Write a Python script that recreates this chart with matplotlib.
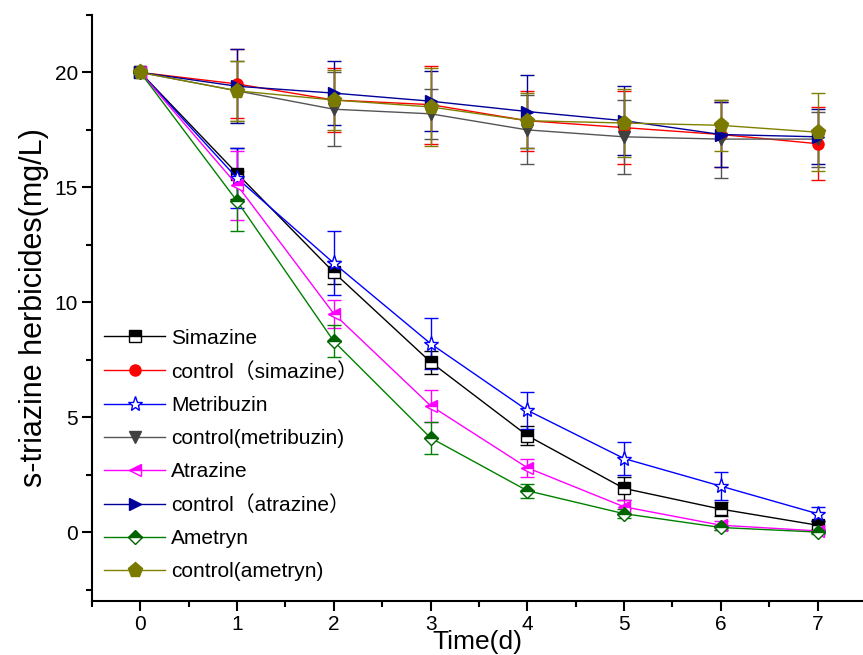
import matplotlib
matplotlib.use('Agg')
import matplotlib.pyplot as plt
from matplotlib.lines import Line2D
import numpy as np

plt.rcParams['font.family'] = ['Liberation Sans', 'Noto Sans CJK SC', 'DejaVu Sans']

days = [0, 1, 2, 3, 4, 5, 6, 7]

simazine = [20, 15.6, 11.3, 7.4, 4.2, 1.9, 1.0, 0.3]
simazine_err = [0, 1.1, 0.5, 0.5, 0.4, 0.5, 0.3, 0.2]
ctrl_simazine = [20, 19.5, 18.8, 18.6, 17.9, 17.6, 17.3, 16.9]
ctrl_simazine_err = [0, 1.5, 1.4, 1.7, 1.3, 1.6, 1.4, 1.6]
metribuzin = [20, 15.4, 11.7, 8.2, 5.3, 3.2, 2.0, 0.8]
metribuzin_err = [0, 1.3, 1.4, 1.1, 0.8, 0.7, 0.6, 0.3]
ctrl_metribuzin = [20, 19.2, 18.4, 18.2, 17.5, 17.2, 17.1, 17.1]
ctrl_metribuzin_err = [0, 1.3, 1.6, 1.1, 1.5, 1.6, 1.7, 1.2]
atrazine = [20, 15.1, 9.5, 5.5, 2.8, 1.1, 0.3, 0.05]
atrazine_err = [0, 1.5, 0.6, 0.7, 0.4, 0.3, 0.2, 0.1]
ctrl_atrazine = [20, 19.4, 19.1, 18.75, 18.3, 17.9, 17.3, 17.2]
ctrl_atrazine_err = [0, 1.6, 1.4, 1.3, 1.6, 1.5, 1.4, 1.2]
ametryn = [20, 14.4, 8.3, 4.1, 1.8, 0.8, 0.2, 0.0]
ametryn_err = [0, 1.3, 0.7, 0.7, 0.3, 0.2, 0.1, 0.1]
ctrl_ametryn = [20, 19.2, 18.8, 18.5, 17.9, 17.8, 17.7, 17.4]
ctrl_ametryn_err = [0, 1.3, 1.3, 1.7, 1.2, 1.5, 1.1, 1.7]

series = [
    ('Simazine', simazine, simazine_err, 'black', 's', 'top', 'black'),
    ('control\uff08simazine\uff09', ctrl_simazine, ctrl_simazine_err, 'red', 'o', 'full', 'red'),
    ('Metribuzin', metribuzin, metribuzin_err, 'blue', '*', 'none', 'blue'),
    ('control(metribuzin)', ctrl_metribuzin, ctrl_metribuzin_err, '#555555', 'v', 'full', '#404040'),
    ('Atrazine', atrazine, atrazine_err, 'magenta', '<', 'top', 'magenta'),
    ('control\uff08atrazine\uff09', ctrl_atrazine, ctrl_atrazine_err, '#000099', '>', 'full', '#000099'),
    ('Ametryn', ametryn, ametryn_err, 'green', 'D', 'top', '#006400'),
    ('control(ametryn)', ctrl_ametryn, ctrl_ametryn_err, '#808000', 'p', 'full', '#7a7a00'),
]

fig = plt.figure(figsize=(8.63, 6.55), dpi=100)
ax = fig.add_axes([0.1066, 0.0824, 0.8934, 0.8947])

handles = []
for name, vals, err, col, mk, fs, mcol in series:
    ms = 8
    if mk == 'D':
        ms = 7
    if mk in ('*', 'p'):
        ms = 11
    style = dict(color=col, lw=1, marker=mk, ms=ms, mec=mcol, mew=1)
    if fs == 'none':
        style.update(mfc='white')
    elif fs == 'top':
        style.update(mfc=mcol, mfcalt='white', fillstyle='top')
    else:
        style.update(mfc=mcol)
    ax.errorbar(days, vals, yerr=err, elinewidth=1, capsize=5, **style)
    handles.append(Line2D([], [], label=name, **style))

ax.set_xlim(-0.5, 7.47)
ax.set_ylim(-3, 22.5)
ax.spines['top'].set_visible(False)
ax.spines['right'].set_visible(False)
ax.spines['left'].set_linewidth(1.5)
ax.spines['bottom'].set_linewidth(1.5)
ax.set_xticks(days)
ax.set_xticks(np.arange(-0.5, 7.5, 0.5), minor=True)
ax.set_yticks([0, 5, 10, 15, 20])
ax.set_yticks(np.arange(-2.5, 22.6, 2.5), minor=True)
ax.tick_params(which='major', direction='out', length=7, width=1.5, labelsize=15, pad=3)
ax.tick_params(which='minor', direction='out', length=4, width=1.5)
ax.set_xlabel('Time(d)', fontsize=19, labelpad=-3)
ax.set_ylabel('s-triazine herbicides(mg/L)', fontsize=22, labelpad=4)

ax.legend(handles=handles, loc='lower left', bbox_to_anchor=(0.0, 0.012), frameon=False,
          fontsize=15, handlelength=2.9, labelspacing=0.68, handletextpad=0.3,
          borderaxespad=0.2)

fig.savefig('out.png', dpi=100)
